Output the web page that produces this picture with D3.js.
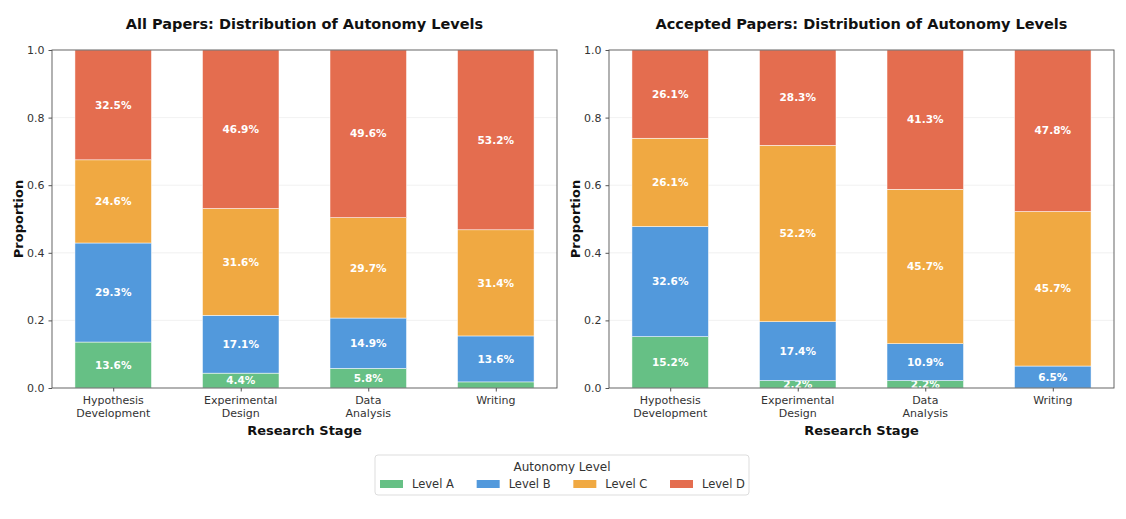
<!DOCTYPE html>
<html>
<head>
<meta charset="utf-8">
<script src="https://cdn.jsdelivr.net/npm/d3@7"></script>
<style>
  body { margin: 0; background: #fff; }
  svg { font-family: "DejaVu Sans", sans-serif; }
</style>
</head>
<body>
<div id="chart"></div>
<script>
// research stages (two-line tick labels)
const stages = [["Hypothesis", "Development"], ["Experimental", "Design"], ["Data", "Analysis"], ["Writing"]];
const levels = ["Level A", "Level B", "Level C", "Level D"];
const levelColors = ["#66c085", "#5299dc", "#f0a942", "#e46d4f"];

// percentages per stage, order: A, B, C, D
const allPapers = [
  [13.6, 29.3, 24.6, 32.5],
  [4.4, 17.1, 31.6, 46.9],
  [5.8, 14.9, 29.7, 49.6],
  [1.8, 13.6, 31.4, 53.2]
];
const acceptedPapers = [
  [15.2, 32.6, 26.1, 26.1],
  [2.2, 17.4, 52.2, 28.3],
  [2.2, 10.9, 45.7, 41.3],
  [0.0, 6.5, 45.7, 47.8]
];
const yTicks = [0, 0.2, 0.4, 0.6, 0.8, 1.0];

const width = 1126;
const height = 519;

const svg = d3.select("#chart")
  .append("svg")
  .attr("width", width)
  .attr("height", height);

const panels = [
  { title: "All Papers: Distribution of Autonomy Levels", data: allPapers, left: 52, right: 557 },
  { title: "Accepted Papers: Distribution of Autonomy Levels", data: acceptedPapers, left: 609, right: 1114 }
];

const plotTop = 50;
const plotBottom = 388;

const y = d3.scaleLinear().domain([0, 1]).range([plotBottom, plotTop]);

panels.forEach((p) => {
  const x = d3.scaleLinear().domain([-0.48, 3.48]).range([p.left, p.right]);
  const barW = x(0.6) - x(0);
  const g = svg.append("g");

  // gridlines
  g.append("g")
    .selectAll("line")
    .data(yTicks.slice(1, -1))
    .join("line")
    .attr("x1", p.left)
    .attr("x2", p.right)
    .attr("y1", (d) => y(d))
    .attr("y2", (d) => y(d))
    .attr("stroke", "#eeeeee")
    .attr("stroke-width", 0.8);

  // stacked bars
  const stack = d3.stack().keys(d3.range(levels.length))(p.data.map((row) => row.map((v) => v / 100)));

  stack.forEach((layer, li) => {
    layer.forEach((seg, si) => {
      const v = p.data[si][li];
      if (v <= 0) return;
      const y1 = Math.min(seg[1], 1);
      g.append("rect")
        .attr("x", x(si) - barW / 2)
        .attr("width", barW)
        .attr("y", y(y1))
        .attr("height", y(seg[0]) - y(y1))
        .attr("fill", levelColors[li])
        .attr("stroke", "#ffffff")
        .attr("stroke-width", 0.5);
      if (v >= 2) {
        g.append("text")
          .attr("x", x(si))
          .attr("y", y((seg[0] + y1) / 2))
          .attr("dy", "0.35em")
          .attr("text-anchor", "middle")
          .attr("fill", "#fff")
          .attr("font-size", 10.5)
          .attr("font-weight", "bold")
          .text(v.toFixed(1) + "%");
      }
    });
  });

  // frame
  g.append("rect")
    .attr("x", p.left)
    .attr("y", plotTop)
    .attr("width", p.right - p.left)
    .attr("height", plotBottom - plotTop)
    .attr("fill", "none")
    .attr("stroke", "#555")
    .attr("stroke-width", 0.9);

  // y axis
  const yAxis = g.append("g")
    .attr("transform", `translate(${p.left},0)`)
    .call(d3.axisLeft(y).tickValues(yTicks).tickFormat(d3.format(".1f")).tickSize(3.5).tickPadding(4));
  yAxis.select(".domain").remove();
  yAxis.selectAll("line").attr("stroke", "#555");
  yAxis.selectAll("text").attr("font-size", 11).attr("fill", "#333").attr("font-family", "DejaVu Sans");

  // x axis
  const xAxis = g.append("g")
    .attr("transform", `translate(0,${plotBottom})`)
    .call(d3.axisBottom(x).tickValues(d3.range(stages.length)).tickFormat("").tickSize(3.5));
  xAxis.select(".domain").remove();
  xAxis.selectAll("line").attr("stroke", "#555");

  stages.forEach((lines, i) => {
    const t = g.append("text")
      .attr("x", x(i))
      .attr("y", plotBottom + 16)
      .attr("text-anchor", "middle")
      .attr("font-size", 11)
      .attr("fill", "#333");
    lines.forEach((l, k) => {
      t.append("tspan").attr("x", x(i)).attr("dy", k === 0 ? 0 : 13).text(l);
    });
  });

  // axis labels
  g.append("text")
    .attr("x", (p.left + p.right) / 2)
    .attr("y", 435)
    .attr("text-anchor", "middle")
    .attr("font-size", 13)
    .attr("font-weight", "bold")
    .attr("fill", "#111")
    .text("Research Stage");

  g.append("text")
    .attr("transform", `translate(${p.left - 29},${(plotTop + plotBottom) / 2}) rotate(-90)`)
    .attr("text-anchor", "middle")
    .attr("font-size", 13)
    .attr("font-weight", "bold")
    .attr("fill", "#111")
    .text("Proportion");

  // title
  g.append("text")
    .attr("x", (p.left + p.right) / 2)
    .attr("y", 29)
    .attr("text-anchor", "middle")
    .attr("font-size", 14.5)
    .attr("font-weight", "bold")
    .attr("fill", "#111")
    .text(p.title);
});

// legend
const legend = svg.append("g").attr("transform", "translate(375,455)");
legend.append("rect")
  .attr("width", 374)
  .attr("height", 40)
  .attr("rx", 3)
  .attr("fill", "#fff")
  .attr("stroke", "#dddddd");
legend.append("text")
  .attr("x", 187)
  .attr("y", 16)
  .attr("text-anchor", "middle")
  .attr("font-size", 12)
  .attr("fill", "#333")
  .text("Autonomy Level");

const lx = d3.scalePoint().domain(levels).range([5, 295]);
levels.forEach((lv, i) => {
  legend.append("rect")
    .attr("x", lx(lv))
    .attr("y", 25)
    .attr("width", 23)
    .attr("height", 8)
    .attr("fill", levelColors[i]);
  legend.append("text")
    .attr("x", lx(lv) + 32)
    .attr("y", 33)
    .attr("font-size", 11.5)
    .attr("fill", "#333")
    .text(lv);
});
</script>
</body>
</html>
